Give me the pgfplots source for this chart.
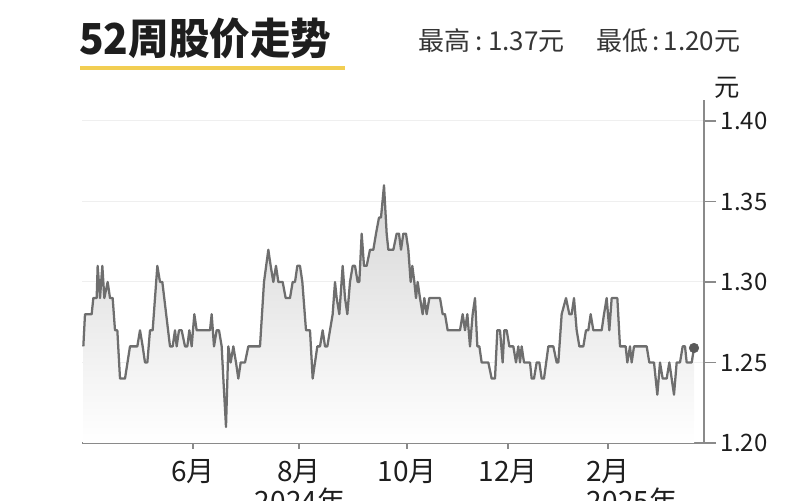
\documentclass[border=0pt]{standalone}
\usepackage{pgfplots}
\pgfplotsset{compat=1.18}
\usepackage{fontspec}
\setmainfont{Noto Sans CJK SC}
\newfontfamily\titlefont{Noto Sans CJK SC}[FakeStretch=0.95]
\definecolor{linegray}{HTML}{6E6E6E}
\definecolor{axisgray}{HTML}{8A8A8A}
\definecolor{gridgray}{HTML}{EFEFEF}
\definecolor{txt}{HTML}{1E1E1E}
\definecolor{goldline}{HTML}{F2CE52}
\def\pxu{0.75pt}
\pgfplotstableread{
u v
70 1.26
75 1.28
95 1.28
100 1.29
110 1.29
113 1.31
120 1.29
127 1.31
133 1.29
143 1.30
150 1.29
158 1.29
165 1.27
172 1.27
180 1.24
195 1.24
210 1.26
232 1.26
240 1.27
248 1.26
255 1.25
262 1.25
270 1.27
278 1.27
292 1.31
300 1.30
307 1.30
330 1.26
338 1.26
345 1.27
350 1.26
357 1.27
365 1.27
375 1.26
382 1.26
388 1.27
395 1.26
403 1.28
410 1.27
450 1.27
455 1.28
462 1.26
470 1.27
477 1.27
485 1.26
490 1.24
498 1.21
505 1.26
512 1.25
520 1.26
528 1.25
535 1.24
542 1.25
555 1.25
565 1.26
600 1.26
612 1.30
625 1.32
632 1.31
640 1.30
648 1.31
655 1.30
668 1.30
677 1.29
690 1.29
698 1.30
705 1.30
712 1.31
720 1.31
727 1.30
738 1.27
750 1.27
758 1.24
765 1.25
772 1.26
780 1.26
788 1.27
795 1.26
802 1.26
810 1.27
818 1.28
825 1.30
830 1.29
838 1.28
848 1.31
855 1.29
862 1.28
870 1.30
878 1.31
885 1.31
893 1.30
898 1.30
905 1.33
912 1.31
920 1.31
930 1.32
940 1.32
948 1.33
957 1.34
963 1.34
972 1.36
980 1.33
985 1.32
1000 1.32
1010 1.33
1017 1.33
1023 1.32
1030 1.33
1038 1.33
1045 1.32
1052 1.30
1057 1.31
1063 1.30
1068 1.29
1073 1.30
1080 1.29
1088 1.28
1093 1.29
1100 1.28
1108 1.29
1140 1.29
1148 1.28
1155 1.28
1163 1.27
1200 1.27
1208 1.28
1215 1.27
1222 1.28
1230 1.26
1238 1.28
1245 1.29
1252 1.26
1258 1.26
1265 1.25
1285 1.25
1295 1.24
1305 1.24
1312 1.27
1320 1.27
1328 1.25
1333 1.27
1340 1.27
1348 1.26
1360 1.26
1368 1.25
1375 1.26
1380 1.25
1385 1.26
1392 1.25
1410 1.25
1415 1.24
1422 1.24
1430 1.25
1438 1.25
1445 1.24
1452 1.24
1465 1.26
1480 1.26
1490 1.25
1495 1.25
1505 1.28
1518 1.29
1528 1.28
1535 1.28
1542 1.29
1550 1.27
1558 1.26
1570 1.26
1578 1.27
1585 1.27
1592 1.28
1600 1.27
1625 1.27
1632 1.28
1640 1.29
1648 1.27
1655 1.29
1672 1.29
1680 1.26
1697 1.26
1702 1.25
1710 1.26
1715 1.25
1722 1.26
1760 1.26
1768 1.25
1782 1.25
1792 1.23
1800 1.25
1808 1.24
1820 1.24
1828 1.25
1835 1.24
1842 1.23
1850 1.25
1860 1.25
1868 1.26
1875 1.26
1880 1.25
1895 1.25
1902 1.259
}\pricedata
\begin{document}
\begin{tikzpicture}
\begin{axis}[
  at={(82*\pxu,57*\pxu)}, anchor=south west,
  scale only axis, width=466.5pt, height=257.25pt,
  xmin=66, xmax=1932, ymin=1.20, ymax=1.413,
  axis x line*=bottom, axis y line*=right,
  axis line style={color=axisgray, line width=1pt},
  xtick={399,717,1041,1344,1644},
  xticklabels={6月,8月,10月,12月,2月},
  ytick={1.20,1.25,1.30,1.35,1.40},
  tick align=outside,
  major tick length=9pt,
  xtick style={draw=axisgray, line width=1pt, /pgfplots/major tick length=4.5pt},
  ytick style={draw=axisgray, line width=1pt},
  ymajorgrids, grid style={color=gridgray, line width=0.8pt},
  /pgf/number format/assume math mode=true,
  y tick label style={/pgf/number format/fixed, /pgf/number format/fixed zerofill, /pgf/number format/precision=2, font=\fontsize{18}{20}\selectfont, text=txt},
  x tick label style={font=\fontsize{21}{24}\selectfont, text=txt},
  clip=false,
]
\addplot[draw=none, top color=black!16, bottom color=white] table[x=u,y=v]{\pricedata} \closedcycle;
\addplot[color=linegray, line width=1.7pt, line join=round] table[x=u,y=v]{\pricedata};
\addplot[only marks, mark=*, mark size=3.6pt, color=black!65] coordinates {(1902,1.259)};
\end{axis}
% titles
\node[anchor=base west, inner sep=0, text=txt, font=\fontsize{32}{38}\titlefont\bfseries] at (79*\pxu, 445*\pxu) {52周股价走势};
\fill[goldline] (80*\pxu, 430*\pxu) rectangle (345*\pxu, 434*\pxu);
\node[anchor=base west, inner sep=0, text=txt!90, font=\fontsize{19.5}{24}\selectfont] at (418*\pxu, 449*\pxu) {最高\hspace{4pt}:\hspace{4pt}1.37元\hspace{24pt}最低\hspace{3pt}:\hspace{3pt}1.20元};
\node[anchor=center, inner sep=0, text=txt, font=\fontsize{19}{22}\selectfont] at (727*\pxu, 412*\pxu) {元};
\node[anchor=base, inner sep=0, text=txt, font=\fontsize{21}{24}\selectfont] at (300*\pxu, -12*\pxu) {2024年};
\node[anchor=base, inner sep=0, text=txt, font=\fontsize{21}{24}\selectfont] at (632*\pxu, -12*\pxu) {2025年};
\pgfresetboundingbox
\useasboundingbox (0,0) rectangle (800*\pxu, 500*\pxu);
\end{tikzpicture}
\end{document}
